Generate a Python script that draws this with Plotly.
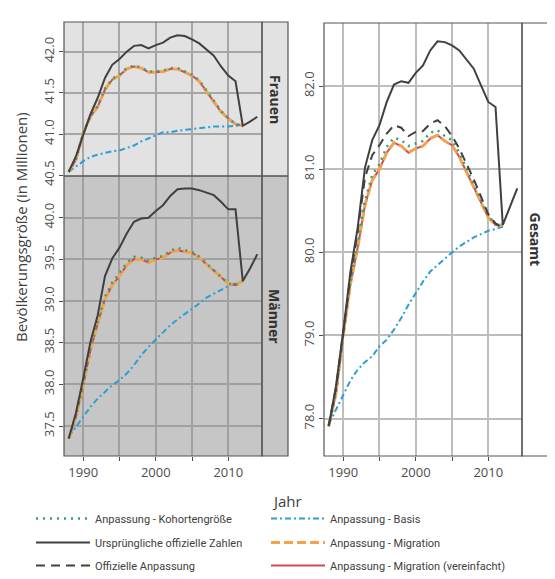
import plotly.graph_objects as go

W, H = 555, 579
OFF = 8  # page body margin offset of the plot div

years_full = list(range(1988, 2015))
years_adj = list(range(1988, 2013))

# Frauen
orig_f = [40.54, 40.73, 40.99, 41.24, 41.44, 41.68, 41.84, 41.91, 42.00, 42.07, 42.08, 42.04, 42.08, 42.11,
          42.17, 42.20, 42.19, 42.15, 42.10, 42.03, 41.95, 41.82, 41.71, 41.64, 41.10, 41.15, 41.21]
mig_f = [40.54, 40.69, 41.01, 41.21, 41.33, 41.54, 41.66, 41.71, 41.79, 41.82, 41.80, 41.75, 41.75, 41.76,
         41.79, 41.79, 41.75, 41.71, 41.64, 41.52, 41.40, 41.27, 41.19, 41.12, 41.10]
verein_f = [40.54, 40.69, 41.01, 41.21, 41.33, 41.54, 41.66, 41.71, 41.79, 41.82, 41.80, 41.75, 41.75, 41.76,
            41.79, 41.79, 41.75, 41.71, 41.64, 41.52, 41.40, 41.27, 41.19, 41.12, 41.10]
kohort_f = [40.54, 40.69, 41.01, 41.22, 41.34, 41.55, 41.67, 41.72, 41.80, 41.83, 41.81, 41.76, 41.76, 41.77,
            41.80, 41.80, 41.76, 41.72, 41.65, 41.53, 41.41, 41.28, 41.19, 41.12, 41.10]
basis_f = [40.54, 40.61, 40.67, 40.72, 40.75, 40.77, 40.79, 40.80, 40.83, 40.86, 40.91, 40.95, 40.99, 41.02,
           41.02, 41.04, 41.05, 41.06, 41.07, 41.08, 41.09, 41.09, 41.09, 41.10, 41.10]

# Männer
orig_m = [37.35, 37.66, 38.07, 38.51, 38.83, 39.30, 39.51, 39.64, 39.81, 39.95, 39.99, 40.00, 40.08, 40.15,
          40.26, 40.34, 40.35, 40.35, 40.33, 40.30, 40.27, 40.19, 40.10, 40.10, 39.24, 39.39, 39.56]
mig_m = [37.35, 37.61, 37.99, 38.41, 38.73, 39.02, 39.19, 39.30, 39.43, 39.50, 39.50, 39.46, 39.50, 39.52,
         39.58, 39.61, 39.59, 39.58, 39.52, 39.44, 39.36, 39.28, 39.21, 39.19, 39.24]
verein_m = [37.35, 37.61, 37.99, 38.41, 38.73, 39.02, 39.19, 39.30, 39.43, 39.50, 39.50, 39.46, 39.50, 39.52,
            39.58, 39.61, 39.59, 39.58, 39.52, 39.44, 39.36, 39.28, 39.21, 39.19, 39.24]
kohort_m = [37.35, 37.62, 38.00, 38.43, 38.75, 39.05, 39.22, 39.33, 39.46, 39.53, 39.52, 39.48, 39.52, 39.54,
            39.60, 39.64, 39.61, 39.59, 39.53, 39.45, 39.37, 39.28, 39.21, 39.19, 39.24]
basis_m = [37.37, 37.49, 37.61, 37.73, 37.83, 37.91, 37.99, 38.05, 38.13, 38.23, 38.35, 38.45, 38.54, 38.63,
           38.71, 38.78, 38.84, 38.90, 38.97, 39.04, 39.09, 39.14, 39.18, 39.21, 39.24]

# Gesamt
orig_g = [77.91, 78.39, 79.05, 79.77, 80.30, 81.02, 81.35, 81.53, 81.81, 82.02, 82.06, 82.04, 82.16, 82.25,
          82.43, 82.54, 82.53, 82.49, 82.43, 82.32, 82.21, 82.01, 81.81, 81.75, 80.33, 80.55, 80.77]
mig_g = [77.91, 78.30, 79.00, 79.62, 80.06, 80.57, 80.87, 81.00, 81.20, 81.32, 81.28, 81.20, 81.25, 81.28,
         81.37, 81.41, 81.34, 81.29, 81.15, 80.97, 80.79, 80.60, 80.42, 80.33, 80.33]
verein_g = [77.91, 78.30, 79.00, 79.62, 80.06, 80.57, 80.87, 81.00, 81.20, 81.32, 81.28, 81.20, 81.25, 81.28,
            81.37, 81.41, 81.34, 81.29, 81.15, 80.97, 80.79, 80.60, 80.42, 80.33, 80.33]
kohort_g = [77.91, 78.31, 79.02, 79.65, 80.10, 80.62, 80.93, 81.06, 81.27, 81.38, 81.35, 81.28, 81.31, 81.34,
            81.44, 81.47, 81.40, 81.35, 81.20, 81.01, 80.82, 80.62, 80.44, 80.34, 80.31]
offiz_g = [77.91, 78.37, 79.03, 79.72, 80.25, 80.90, 81.17, 81.29, 81.43, 81.53, 81.50, 81.40, 81.45, 81.46,
           81.55, 81.59, 81.52, 81.40, 81.25, 81.07, 80.88, 80.67, 80.46, 80.35, 80.29]
basis_g = [77.93, 78.11, 78.27, 78.46, 78.59, 78.68, 78.75, 78.87, 78.95, 79.07, 79.21, 79.37, 79.51, 79.65,
           79.77, 79.85, 79.93, 80.00, 80.07, 80.13, 80.18, 80.22, 80.26, 80.28, 80.31]

x_ticks = [1990, 1995, 2000, 2005, 2010]
x_ticktext = ["1990", "", "2000", "", "2010"]

names = {
    "kohort": "Anpassung - Kohortengröße",
    "basis": "Anpassung - Basis",
    "orig": "Ursprüngliche offizielle Zahlen",
    "mig": "Anpassung - Migration",
    "offiz": "Offizielle Anpassung",
    "verein": "Anpassung - Migration (vereinfacht)",
}
# one legend per entry: (legend id, column, row)
legend_of = {"kohort": ("legend", 0, 0), "basis": ("legend2", 1, 0), "orig": ("legend3", 0, 1),
             "mig": ("legend4", 1, 1), "offiz": ("legend5", 0, 2), "verein": ("legend6", 1, 2)}
styles = {
    "basis": dict(color="#2a9fd6", width=2, dash="6px,3px,2px,3px"),
    "verein": dict(color="#d1495b", width=2),
    "mig": dict(color="#f7a24a", width=3, dash="9px,4px"),
    "kohort": dict(color="#3a9e7a", width=2.5, dash="2px,5px"),
    "offiz": dict(color="#404040", width=2, dash="9px,6px"),
    "orig": dict(color="#404040", width=2),
}

panels = [
    ("x", "y", {"basis": basis_f, "verein": verein_f, "mig": mig_f, "kohort": kohort_f, "orig": orig_f}, False),
    ("x2", "y2", {"basis": basis_m, "verein": verein_m, "mig": mig_m, "kohort": kohort_m, "orig": orig_m}, False),
    ("x3", "y3", {"basis": basis_g, "verein": verein_g, "mig": mig_g, "kohort": kohort_g, "offiz": offiz_g,
                  "orig": orig_g}, True),
]

fig = go.Figure()
for xa, ya, series, show in panels:
    for key, vals in series.items():
        xs = years_full if key == "orig" else years_adj
        lg = legend_of[key][0]
        fig.add_trace(go.Scatter(
            x=xs, y=vals, mode="lines", name=names[key], line=styles[key],
            xaxis=xa, yaxis=ya, showlegend=show, legend=lg, hoverinfo="skip"))


def px(v):
    return (v - OFF) / W


def py(v):
    return 1 - (v - OFF) / H


font = "Open Sans, Noto Sans, sans-serif"
legfont = "Roboto, Open Sans, sans-serif"
tickfont = dict(family=font, size=13, color="#4d4d4d")
common_x = dict(range=[1987.35, 2014.65], tickvals=x_ticks, ticktext=x_ticktext, showgrid=True,
                gridwidth=1.5, zeroline=False, showline=False, ticks="outside", ticklen=4,
                tickcolor="#4d4d4d", tickfont=tickfont)
common_y = dict(showgrid=True, gridwidth=1.5, zeroline=False, showline=False, ticks="outside", ticklen=4,
                tickcolor="#4d4d4d", tickfont=tickfont, tickangle=-90, tickformat=".1f")

col_x = [31, 266]
row_y = [519, 543, 566]
legends = {}
for key, (lg, col, row) in legend_of.items():
    legends[lg] = dict(orientation="h", x=px(col_x[col]), y=py(row_y[row] - 15), xanchor="left",
                       yanchor="top", itemwidth=54,
                       font=dict(family=legfont, size=11, color="#404040"), bgcolor="rgba(0,0,0,0)")

fig.update_layout(
    width=W, height=H, margin=dict(l=0, r=0, t=0, b=0, autoexpand=False),
    paper_bgcolor="white", plot_bgcolor="rgba(0,0,0,0)",
    xaxis=dict(domain=[px(64), px(262)], anchor="y", gridcolor="#a6a6a6", **{**common_x, "ticks": "",
                                                                             "showticklabels": False}),
    yaxis=dict(domain=[py(176), py(22)], anchor="x", range=[40.49, 42.36], tickvals=[40.5, 41.0, 41.5, 42.0],
               gridcolor="#a6a6a6", **common_y),
    xaxis2=dict(domain=[px(64), px(262)], anchor="y2", gridcolor="#a0a0a0", **common_x),
    yaxis2=dict(domain=[py(456), py(176)], anchor="x2", range=[37.14, 40.5],
                tickvals=[37.5, 38.0, 38.5, 39.0, 39.5, 40.0], gridcolor="#a0a0a0", **common_y),
    xaxis3=dict(domain=[px(324), px(522)], anchor="y3", gridcolor="#bdbdbd", **common_x),
    yaxis3=dict(domain=[py(456), py(23)], anchor="x3", range=[77.55, 82.76],
                tickvals=[78.0, 79.0, 80.0, 81.0, 82.0], gridcolor="#bdbdbd", **common_y),
    **legends,
)

shapes = []
# outer light frame
shapes.append(dict(type="rect", xref="paper", yref="paper", x0=px(6), x1=px(551), y0=py(600), y1=py(7),
                   line=dict(color="#d9d9d9", width=1.5), fillcolor="rgba(0,0,0,0)", layer="below"))
# backgrounds
for (x0, x1, y0, y1, c) in [(64, 288, 22, 176, "#e2e2e2"), (64, 288, 176, 456, "#c6c6c6"),
                            (324, 548, 23, 456, "#ffffff")]:
    shapes.append(dict(type="rect", xref="paper", yref="paper", x0=px(x0), x1=px(x1), y0=py(y1), y1=py(y0),
                       line=dict(width=0), fillcolor=c, layer="below"))
# borders
for (x0, x1, y0, y1) in [(64, 262, 22, 176), (262, 288, 22, 176), (64, 262, 176, 456), (262, 288, 176, 456),
                         (324, 522, 23, 456), (522, 548, 23, 456)]:
    shapes.append(dict(type="rect", xref="paper", yref="paper", x0=px(x0), x1=px(x1), y0=py(y1), y1=py(y0),
                       line=dict(color="#555555", width=1.2), fillcolor="rgba(0,0,0,0)", layer="above"))
fig.update_layout(shapes=shapes)

ann = []
strip_font = dict(family=font, size=14, color="#333333")
for txt, xc, yc in [("Frauen", 275, 99), ("Männer", 275, 316), ("Gesamt", 535, 239.5)]:
    ann.append(dict(text="<b>" + txt + "</b>", x=px(xc), y=py(yc), xref="paper", yref="paper",
                    showarrow=False, textangle=90, font=strip_font, xanchor="center", yanchor="middle"))
ann.append(dict(text="Bevölkerungsgröße (in Millionen)", x=px(21), y=py(227), xref="paper", yref="paper",
                showarrow=False, textangle=-90, font=dict(family=font, size=15, color="#404040"),
                xanchor="center", yanchor="middle"))
ann.append(dict(text="Jahr", x=px(287), y=py(501), xref="paper", yref="paper", showarrow=False,
                font=dict(family=font, size=15, color="#404040"), xanchor="center", yanchor="middle"))
fig.update_layout(annotations=ann)

fig.write_html("out.html")
